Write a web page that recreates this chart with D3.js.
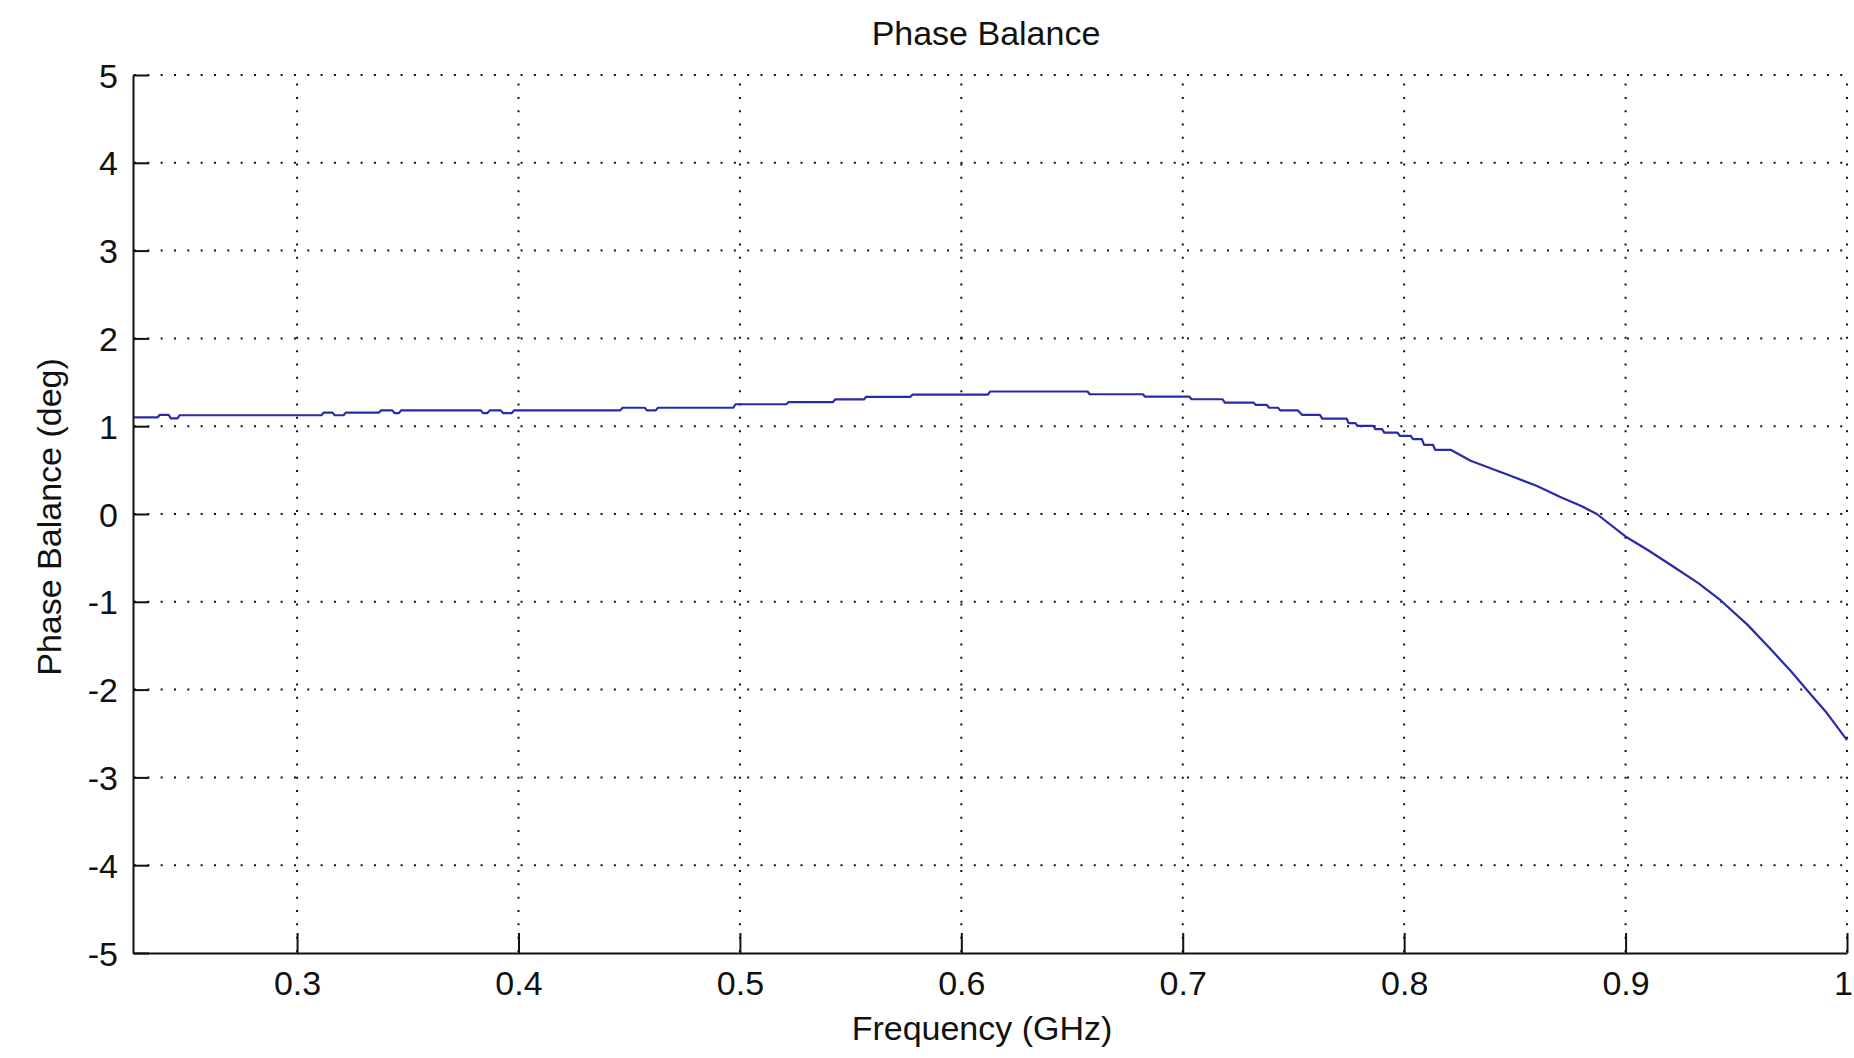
<!DOCTYPE html>
<html>
<head>
<meta charset="utf-8">
<script src="https://cdn.jsdelivr.net/npm/d3@7"></script>
<style>
  html, body { margin: 0; padding: 0; background: #fff; }
  svg { display: block; }
  text { font-family: "Liberation Sans", Arial, sans-serif; fill: #111; }
</style>
</head>
<body>
<svg id="chart" width="1854" height="1058"></svg>
<script>
// Frequency (GHz)
const freq = [
  0.226, 0.237, 0.238, 0.242, 0.243, 0.246, 0.247, 0.311, 0.312, 0.316,
  0.317, 0.321, 0.322, 0.337, 0.338, 0.343, 0.344, 0.346, 0.347, 0.383,
  0.384, 0.386, 0.387, 0.392, 0.393, 0.397, 0.398, 0.446, 0.447, 0.457,
  0.458, 0.462, 0.463, 0.497, 0.498, 0.521, 0.522, 0.542, 0.543, 0.556,
  0.557, 0.577, 0.578, 0.612, 0.613, 0.657, 0.658, 0.682, 0.683, 0.703,
  0.704, 0.718, 0.719, 0.732, 0.733, 0.738, 0.739, 0.743, 0.744, 0.752,
  0.754, 0.762, 0.763, 0.774, 0.775, 0.778, 0.779, 0.786, 0.787, 0.790,
  0.791, 0.797, 0.798, 0.803, 0.804, 0.808, 0.809, 0.813, 0.814, 0.821,
  0.830, 0.848, 0.860, 0.871, 0.880, 0.887, 0.9005, 0.910, 0.922, 0.933,
  0.943, 0.955, 0.966, 0.975, 0.982, 0.991, 1.0
];
// Phase Balance (deg)
const phase = [
  1.10, 1.10, 1.13, 1.13, 1.09, 1.09, 1.125, 1.125, 1.155, 1.155,
  1.125, 1.125, 1.155, 1.155, 1.18, 1.18, 1.15, 1.15, 1.18, 1.18,
  1.15, 1.15, 1.18, 1.18, 1.15, 1.15, 1.18, 1.18, 1.21, 1.21,
  1.18, 1.18, 1.21, 1.21, 1.25, 1.25, 1.275, 1.275, 1.305, 1.305,
  1.335, 1.335, 1.36, 1.36, 1.395, 1.395, 1.364, 1.364, 1.336, 1.336,
  1.307, 1.307, 1.268, 1.268, 1.242, 1.242, 1.21, 1.21, 1.18, 1.18,
  1.128, 1.128, 1.087, 1.087, 1.034, 1.034, 1.003, 1.003, 0.966, 0.966,
  0.927, 0.927, 0.89, 0.89, 0.852, 0.852, 0.788, 0.788, 0.731, 0.731,
  0.606, 0.435, 0.32, 0.189, 0.09, 0.0, -0.265, -0.41, -0.606, -0.79,
  -0.985, -1.26, -1.553, -1.8, -2.008, -2.27, -2.576
];
const xTicks = [0.3, 0.4, 0.5, 0.6, 0.7, 0.8, 0.9, 1];
const xTickLabels = ["0.3", "0.4", "0.5", "0.6", "0.7", "0.8", "0.9", "1"];
const yTicks = [-5, -4, -3, -2, -1, 0, 1, 2, 3, 4, 5];
const yTickLabels = ["-5", "-4", "-3", "-2", "-1", "0", "1", "2", "3", "4", "5"];
const xDomain = [0.2259, 1];
const yDomain = [-5, 5];
const titleText = "Phase Balance";
const xLabelText = "Frequency (GHz)";
const yLabelText = "Phase Balance (deg)";

const L = 133, R = 1847, T = 75, B = 953;
const FS = 34;
const svg = d3.select("#chart");
const x = d3.scaleLinear().domain(xDomain).range([L, R]);
const y = d3.scaleLinear().domain(yDomain).range([B, T]);

// grid
const grid = svg.append("g").attr("stroke", "#111").attr("stroke-width", 2)
  .attr("stroke-dasharray", "2,11.33").attr("fill", "none");
grid.selectAll("line.h").data(yTicks.filter(d => d !== yDomain[0])).enter().append("line")
  .attr("x1", L + 1).attr("x2", R).attr("y1", d => y(d)).attr("y2", d => y(d));
grid.selectAll("line.v").data(xTicks).enter().append("line")
  .attr("x1", d => x(d)).attr("x2", d => x(d)).attr("y1", B - 1).attr("y2", T);

// curve
const line = d3.line().x((d, i) => x(freq[i])).y(d => y(d));
svg.append("path").datum(phase)
  .attr("d", line).attr("fill", "none")
  .attr("stroke", "#2a2aa8").attr("stroke-width", 2.2)
  .attr("stroke-linejoin", "round");

// axes
const yAxis = d3.axisLeft(y).tickValues(yTicks)
  .tickFormat((d, i) => yTickLabels[i]).tickSize(-16).tickSizeOuter(0).tickPadding(15);
const gy = svg.append("g").attr("transform", `translate(${L},0)`).call(yAxis);
const xAxis = d3.axisBottom(x).tickValues(xTicks)
  .tickFormat((d, i) => xTickLabels[i]).tickSize(-20).tickSizeOuter(0).tickPadding(18);
const gx = svg.append("g").attr("transform", `translate(0,${B})`).call(xAxis);

[gx, gy].forEach(g => {
  g.select(".domain").attr("stroke", "#111").attr("stroke-width", 2);
  g.selectAll(".tick line").attr("stroke", "#111").attr("stroke-width", 2);
  g.selectAll(".tick text").attr("font-size", FS)
    .attr("font-family", '"Liberation Sans", Arial, sans-serif').attr("fill", "#111");
});
gy.selectAll(".tick text").attr("dy", null).attr("dominant-baseline", null)
  .attr("y", 12);
gx.selectAll(".tick text").attr("dy", null).attr("y", 42)
  .attr("x", (d, i) => i === xTicks.length - 1 ? -4 : 0);

// labels
svg.append("text").attr("x", 986).attr("y", 45).attr("text-anchor", "middle")
  .attr("font-size", FS).text(titleText);
svg.append("text").attr("x", 982).attr("y", 1040).attr("text-anchor", "middle")
  .attr("font-size", FS).text(xLabelText);
svg.append("text").attr("transform", "translate(61,517) rotate(-90)")
  .attr("text-anchor", "middle").attr("font-size", FS).text(yLabelText);
</script>
</body>
</html>
